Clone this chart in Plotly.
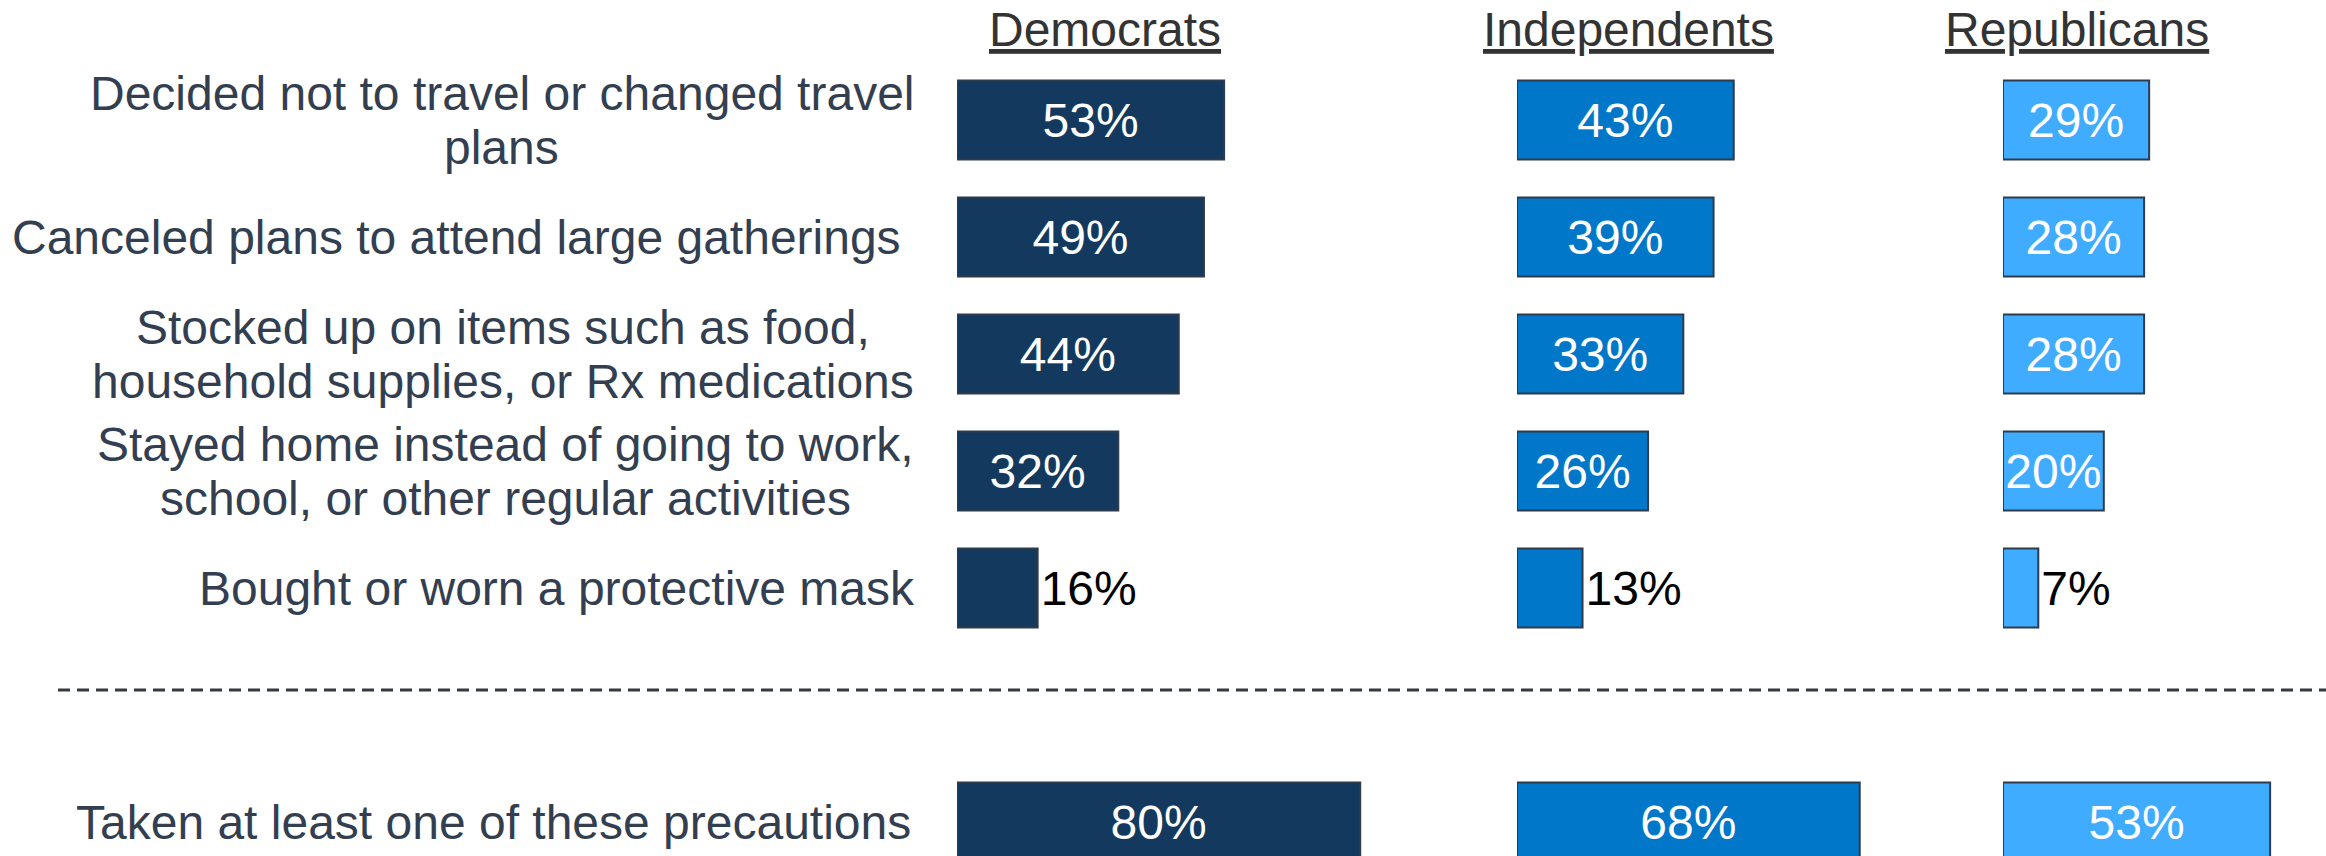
import plotly.graph_objects as go

# ---- data ----
categories = [
    "Decided not to travel or changed travel<br>plans",
    "Canceled plans to attend large gatherings\u00a0",
    "Stocked up on items such as food,<br>household supplies, or Rx medications",
    "Stayed home instead of going to work,<br>school, or other regular activities",
    "Bought or worn a protective mask",
    "Taken at least one of these precautions",
]
groups = ["Democrats", "Independents", "Republicans"]
democrats = [53, 49, 44, 32, 16, 80]
independents = [43, 39, 33, 26, 13, 68]
republicans = [29, 28, 28, 20, 7, 53]
series = [democrats, independents, republicans]

# ---- styling ----
W, H = 2326, 856
FONT = "Liberation Sans, Arial, Helvetica, sans-serif"
FS = 48
LINE_GAP = 54  # px between label lines
colors = ["#133A5E", "#0077C8", "#3FACFF"]
outline = "#2E3B4E"
label_color = "#333F50"
title_color = "#333333"

# Arial / Liberation Sans advance widths (per 1000 em) for text measuring
_W = {" ": 278, "\u00a0": 278, ",": 278, ".": 278, "%": 889}
_W.update({c: 556 for c in "0123456789"})
_W.update(dict(zip("abcdefghijklmnopqrstuvwxyz",
                   [556, 556, 500, 556, 556, 278, 556, 556, 222, 222, 500, 222, 833,
                    556, 556, 556, 556, 333, 500, 278, 556, 500, 722, 500, 500, 500])))
_W.update(dict(zip("ABCDEFGHIJKLMNOPQRSTUVWXYZ",
                   [667, 667, 722, 722, 667, 611, 778, 722, 278, 500, 667, 556, 833,
                    722, 778, 667, 778, 722, 667, 611, 722, 667, 944, 667, 667, 611])))


def text_px(s, size=FS):
    return sum(_W.get(ch, 556) for ch in s) * size / 1000.0


spacer = " "
slot_order = categories[:5] + [spacer] + categories[5:]

# panel placement in pixels (start, axis range max); px per percent kept equal
px_per_pct = 5.04
panel_start = [957, 1517, 2003]
panel_range = [100, 80, 60]
title_center = [1105, 1628, 2077]
label_right = 914

fig = go.Figure()
axis_names = ["x", "x2", "x3"]
for i, (vals, col) in enumerate(zip(series, colors)):
    pos = ["inside" if v >= 20 else "outside" for v in vals]
    tcol = ["white" if p == "inside" else "black" for p in pos]
    fig.add_trace(go.Bar(
        x=vals, y=categories, orientation="h",
        xaxis=axis_names[i], yaxis="y",
        marker=dict(color=col, line=dict(color=outline, width=2)),
        width=0.675,
        text=[f"{v}%" for v in vals],
        textposition=pos,
        insidetextanchor="middle",
        textfont=dict(family=FONT, size=FS, color=tcol),
        constraintext="none",
        cliponaxis=False,
        showlegend=False,
        hoverinfo="skip",
    ))

axis_common = dict(showgrid=False, zeroline=False, showticklabels=False,
                   showline=False, ticks="", fixedrange=True)
for i, name in enumerate(["xaxis", "xaxis2", "xaxis3"]):
    x0 = panel_start[i] / W
    x1 = (panel_start[i] + panel_range[i] * px_per_pct) / W
    cfg = dict(axis_common, domain=[x0, x1], range=[0, panel_range[i]])
    if i > 0:
        cfg["anchor"] = "y"
    fig.update_layout(**{name: cfg})

row_px = 117.0
first_center = 120.0
y_top = -first_center / row_px
y_bot = (H - first_center) / row_px
fig.update_layout(yaxis=dict(
    axis_common, type="category", categoryorder="array",
    categoryarray=slot_order, range=[y_bot, y_top], domain=[0, 1],
))

annotations = []
for cat in categories:
    lines = cat.split("<br>")
    widest = max(text_px(l) for l in lines)
    cx = label_right - widest / 2.0
    n = len(lines)
    for k, line in enumerate(lines):
        annotations.append(dict(
            xref="paper", x=cx / W, xanchor="center",
            yref="y", y=cat, yanchor="middle",
            yshift=((n - 1) / 2.0 - k) * LINE_GAP,
            text=line, showarrow=False,
            font=dict(family=FONT, size=FS, color=label_color),
        ))
for g, cx in zip(groups, title_center):
    annotations.append(dict(
        xref="paper", x=cx / W, xanchor="center",
        yref="paper", y=1 - 30 / H, yanchor="middle",
        text=f"<u>{g}</u>", showarrow=False,
        font=dict(family=FONT, size=FS, color=title_color),
    ))

fig.update_layout(
    width=W, height=H,
    margin=dict(l=0, r=0, t=0, b=0, pad=0),
    paper_bgcolor="white", plot_bgcolor="white",
    annotations=annotations,
    shapes=[dict(
        type="line", xref="paper", yref="paper",
        x0=58 / W, x1=1, y0=1 - 690 / H, y1=1 - 690 / H,
        line=dict(color="#333A40", width=3, dash="12px,7px"),
    )],
    barmode="overlay",
)

fig.write_html(
    "out.html",
    config={"displayModeBar": False, "staticPlot": True},
    post_script="document.body.style.margin='0';document.body.style.overflow='hidden';",
)
